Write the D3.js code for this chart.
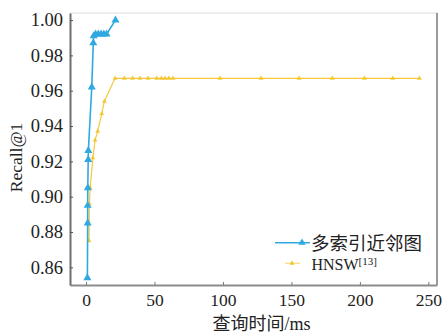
<!DOCTYPE html>
<html>
<head>
<meta charset="utf-8">
<script src="https://cdn.jsdelivr.net/npm/d3@7"></script>
<style>
  body { margin: 0; background: #fff; }
  svg { display: block; }
</style>
</head>
<body>
<svg width="445" height="334"></svg>
<script>
// данные
const timeMulti   = [1.0, 1.2, 1.2, 1.3, 1.6, 1.7, 4.2, 5.3, 5.6, 7, 9, 11, 13, 15, 21.5];
const recallMulti = [0.854, 0.885, 0.895, 0.905, 0.921, 0.926, 0.962, 0.987, 0.991, 0.992, 0.992, 0.992, 0.992, 0.992, 1.0];

const timeHnsw   = [2.2, 2.5, 3.0, 5.0, 6.6, 8.5, 11.5, 13.4, 21.2, 28, 34, 39.4, 45.3, 51.6, 55, 57.7, 60.5, 63.5,
                    97.9, 127.8, 155.6, 179.9, 203.3, 224, 243.5];
const recallHnsw = [0.875, 0.896, 0.905, 0.922, 0.932, 0.937, 0.947, 0.954, 0.967, 0.967, 0.967, 0.967, 0.967, 0.967,
                    0.967, 0.967, 0.967, 0.967, 0.967, 0.967, 0.967, 0.967, 0.967, 0.967, 0.967];

const xTicks = [0, 50, 100, 150, 200, 250];
const yTicks = [0.86, 0.88, 0.90, 0.92, 0.94, 0.96, 0.98, 1.00];

const seriesNames = ["多索引近邻图", "HNSW"];
const seriesColors = ["#2fa9e0", "#f4c326"];

const SERIF = "'Liberation Serif', 'Times New Roman', serif";
const MIXED = "'Liberation Serif', 'Noto Sans CJK SC', serif";

const svg = d3.select("svg");

const area = { left: 70, right: 437, top: 13, bottom: 285 };

const scX = d3.scaleLinear().domain([-11.7, 256.3]).range([area.left, area.right]);
const scY = d3.scaleLinear().domain([0.85, 1.004]).range([area.bottom, area.top]);

// рамка
svg.append("line").attr("x1", area.left).attr("x2", area.right)
   .attr("y1", area.top).attr("y2", area.top)
   .style("stroke", "#dcdcdc").style("stroke-width", 1);
svg.append("line").attr("x1", area.right).attr("x2", area.right)
   .attr("y1", area.top).attr("y2", area.bottom)
   .style("stroke", "#9a9a9a").style("stroke-width", 2);

// оси
const axisX = d3.axisBottom(scX).tickValues(xTicks).tickSizeInner(-3).tickSizeOuter(0).tickPadding(9);
const axisY = d3.axisLeft(scY).tickValues(yTicks).tickFormat(d3.format(".2f")).tickSizeInner(-3).tickSizeOuter(0).tickPadding(7);

const gx = svg.append("g")
   .attr("transform", `translate(0, ${area.bottom})`)
   .call(axisX);
gx.select(".domain").style("stroke", "#8c8c8c").style("stroke-width", 2);
gx.selectAll(".tick line").style("stroke", "#777");
gx.selectAll("text").style("font-family", SERIF).style("font-size", "17.5px").style("fill", "#222");

const gy = svg.append("g")
   .attr("transform", `translate(${area.left}, 0)`)
   .call(axisY);
gy.select(".domain").style("stroke", "#6e6e6e").style("stroke-width", 2);
gy.selectAll(".tick line").style("stroke", "#555");
gy.selectAll("text").style("font-family", SERIF).style("font-size", "18.5px").style("fill", "#222");

// подписи осей
svg.append("text")
   .attr("transform", "translate(22, 157.5) rotate(-90)")
   .attr("text-anchor", "middle")
   .style("font-family", SERIF)
   .style("font-size", "17.5px").style("fill", "#222")
   .text("Recall@1");

svg.append("text")
   .attr("x", 261.5).attr("y", 329.5)
   .attr("text-anchor", "middle")
   .style("font-family", MIXED)
   .style("font-size", "18px").style("fill", "#222")
   .text("查询时间/ms");

// линии
function drawSeries(times, recalls, color, width, markerSize, opacity) {
    const pts = times.map((t, i) => [t, recalls[i]]);
    const line = d3.line().x(d => scX(d[0])).y(d => scY(d[1]));
    svg.append("path")
       .datum(pts)
       .attr("d", line)
       .style("fill", "none")
       .style("stroke", color)
       .style("stroke-width", width)
       .style("opacity", opacity);
    svg.append("g").selectAll("path")
       .data(pts)
       .enter()
       .append("path")
       .attr("d", d3.symbol().type(d3.symbolTriangle).size(markerSize))
       .attr("transform", d => `translate(${scX(d[0])}, ${scY(d[1])})`)
       .style("fill", color)
       .style("opacity", opacity);
}

drawSeries(timeHnsw, recallHnsw, seriesColors[1], 1.2, 10, 0.9);
drawSeries(timeMulti, recallMulti, seriesColors[0], 1.6, 28, 1);

// легенда
const leg = svg.append("g");
leg.append("line").attr("x1", 275).attr("x2", 310).attr("y1", 242.7).attr("y2", 242.7)
   .style("stroke", seriesColors[0]).style("stroke-width", 1.6);
leg.append("path").attr("d", d3.symbol().type(d3.symbolTriangle).size(24))
   .attr("transform", "translate(302, 242.7)").style("fill", seriesColors[0]);
leg.append("text").attr("x", 311).attr("y", 249.5)
   .style("font-family", "'Noto Sans CJK SC'").style("font-size", "18.5px").style("fill", "#222")
   .text(seriesNames[0]);

leg.append("line").attr("x1", 285).attr("x2", 300).attr("y1", 263.3).attr("y2", 263.3)
   .style("stroke", seriesColors[1]).style("stroke-width", 1.2).style("opacity", 0.6);
leg.append("path").attr("d", d3.symbol().type(d3.symbolTriangle).size(10))
   .attr("transform", "translate(292, 263.3)").style("fill", seriesColors[1]);
const t2 = leg.append("text").attr("x", 311.5).attr("y", 269.5)
   .style("font-family", SERIF)
   .style("font-size", "16px").style("fill", "#222");
t2.append("tspan").text(seriesNames[1]);
t2.append("tspan").attr("dy", -5).style("font-size", "11px").text("[13]");
</script>
</body>
</html>
